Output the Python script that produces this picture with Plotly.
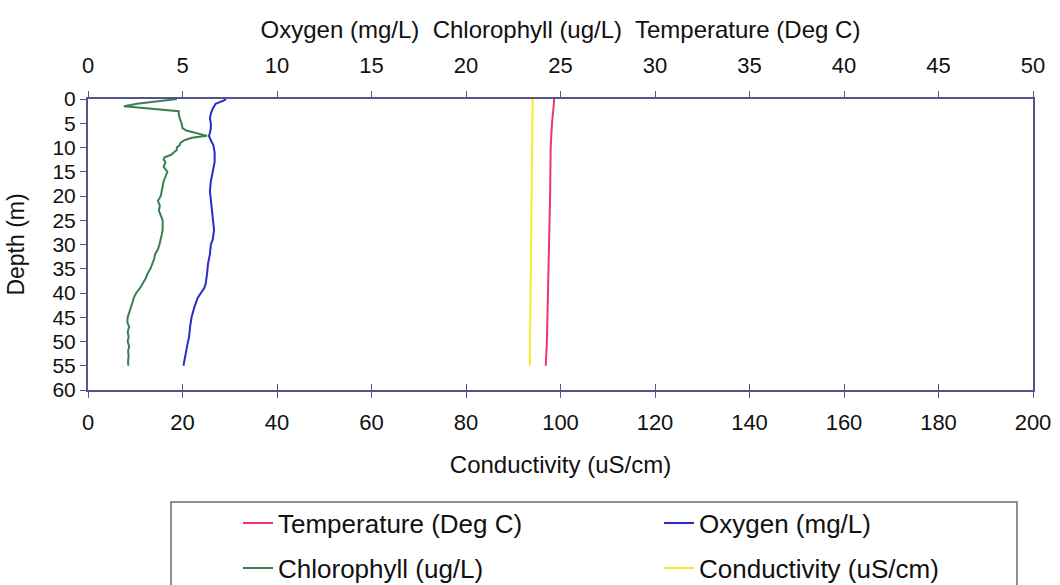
import plotly.graph_objects as go

# --- Depth profiles -------------------------------------------------------
temp_depth = [0, 1, 5, 9, 10, 20, 30, 40, 50, 55]
temp_value = [24.66, 24.65, 24.55, 24.5, 24.48, 24.45, 24.4, 24.35, 24.28, 24.22]

oxy_depth = [0.0, 0.3, 1.0, 2.0, 3.0, 4.0, 5.0, 6.0, 7.0, 7.6, 8.5, 9.5, 11.0,
             13.0, 15.0, 17.0, 19.0, 21.0, 23.0, 25.0, 27.0, 29.0, 30.0, 32.0,
             34.0, 36.0, 38.0, 39.0, 40.0, 41.0, 43.0, 45.0, 47.0, 49.0, 51.0,
             53.0, 55.0]
oxy_value = [7.3, 7.2, 6.75, 6.6, 6.5, 6.45, 6.5, 6.5, 6.45, 6.4, 6.5, 6.63, 6.7,
             6.7, 6.6, 6.5, 6.45, 6.5, 6.57, 6.62, 6.67, 6.6, 6.5, 6.45,
             6.35, 6.3, 6.23, 6.15, 5.98, 5.8, 5.62, 5.48, 5.4, 5.35, 5.24,
             5.13, 5.05]

chl_depth = [0.0, 0.5, 1.0, 1.5, 2.0, 2.5, 3.0, 4.0, 5.0, 6.0, 6.5, 7.0, 7.6,
             8.0, 8.5, 9.0, 9.5, 10.0, 10.5, 11.0, 11.5, 12.0, 12.5, 13.0,
             14.0, 15.0, 16.0, 17.0, 18.0, 19.0, 20.0, 21.0, 22.0, 23.0, 24.0,
             25.0, 26.0, 27.0, 28.0, 29.0, 30.0, 31.0, 32.0, 33.0, 34.0, 35.0,
             36.0, 37.0, 38.0, 39.0, 40.0, 41.0, 42.0, 43.0, 44.0, 45.0, 46.0,
             47.0, 48.0, 49.0, 50.0, 51.0, 52.0, 53.0, 54.0, 55.0]
chl_value = [4.7, 3.6, 2.6, 1.9, 3.3, 4.8, 4.8, 4.85, 4.95, 5.0, 5.2, 5.7, 6.3,
             5.5, 5.1, 4.9, 4.85, 4.7, 4.7, 4.55, 4.4, 4.05, 4.0, 4.1,
             4.0, 4.2, 4.1, 4.0, 3.95, 3.9, 3.85, 3.7, 3.8, 3.75, 3.85,
             3.95, 3.95, 3.95, 3.9, 3.85, 3.78, 3.7, 3.55, 3.5, 3.42, 3.3,
             3.15, 3.05, 2.9, 2.75, 2.55, 2.42, 2.35, 2.28, 2.2, 2.1, 2.08,
             2.18, 2.1, 2.15, 2.1, 2.18, 2.12, 2.15, 2.12, 2.13]

cond_depth = [0, 10, 20, 30, 40, 50, 55]
cond_value = [94.1, 94.0, 93.9, 93.8, 93.7, 93.55, 93.5]

top_ticks = [0, 5, 10, 15, 20, 25, 30, 35, 40, 45, 50]
bottom_ticks = [0, 20, 40, 60, 80, 100, 120, 140, 160, 180, 200]
depth_ticks = [0, 5, 10, 15, 20, 25, 30, 35, 40, 45, 50, 55, 60]

FONT = "Liberation Sans, Arial, sans-serif"
AXIS_COLOR = "#55558a"
W, H = 1060, 585
L, R, T, B = 88, 27, 99, 195
PW, PH = W - L - R, H - T - B


def px_x(px):
    return (px - L) / PW


def px_y(py):
    return (H - B - py) / PH


fig = go.Figure()

fig.add_trace(go.Scatter(x=temp_value, y=temp_depth, xaxis="x2", yaxis="y",
                         mode="lines", name="Temperature (Deg C)",
                         line=dict(color="#f5336b", width=2), legend="legend"))
fig.add_trace(go.Scatter(x=oxy_value, y=oxy_depth, xaxis="x2", yaxis="y",
                         mode="lines", name="Oxygen (mg/L)",
                         line=dict(color="#2b2bc8", width=2), legend="legend"))
fig.add_trace(go.Scatter(x=chl_value, y=chl_depth, xaxis="x2", yaxis="y",
                         mode="lines", name="Chlorophyll (ug/L)",
                         line=dict(color="#3a7f52", width=2), legend="legend2"))
fig.add_trace(go.Scatter(x=cond_value, y=cond_depth, xaxis="x", yaxis="y",
                         mode="lines", name="Conductivity (uS/cm)",
                         line=dict(color="#f2ee2e", width=2), legend="legend2"))
# empty trace so the inner bottom tick axis is drawn
fig.add_trace(go.Scatter(x=[], y=[], xaxis="x3", yaxis="y", showlegend=False,
                         hoverinfo="skip"))

legend_common = dict(
    orientation="h", xanchor="left", yanchor="middle",
    font=dict(family=FONT, size=26, color="#111"),
    bgcolor="rgba(0,0,0,0)", borderwidth=0,
    entrywidth=376, entrywidthmode="pixels",
)

fig.update_layout(
    width=W, height=H,
    margin=dict(l=L, r=R, t=T, b=B, autoexpand=False),
    paper_bgcolor="white", plot_bgcolor="white",
    font=dict(family=FONT, size=21, color="#111"),
    xaxis=dict(
        range=[0, 200], tickvals=bottom_ticks, ticks="outside", ticklen=6,
        tickcolor=AXIS_COLOR, showline=True, linecolor=AXIS_COLOR, linewidth=2,
        mirror=True, showgrid=False, zeroline=False, ticklabelstandoff=6,
        tickfont=dict(size=22),
        title=dict(text="Conductivity (uS/cm)", font=dict(size=24), standoff=22),
    ),
    xaxis2=dict(
        range=[0, 50], tickvals=top_ticks, overlaying="x", side="top",
        anchor="y", ticks="outside", ticklen=6, tickcolor=AXIS_COLOR,
        showline=True, linecolor=AXIS_COLOR, linewidth=2, showgrid=False,
        zeroline=False, ticklabelstandoff=9, tickfont=dict(size=22),
        title=dict(text="Oxygen (mg/L)  Chlorophyll (ug/L)  Temperature (Deg C)",
                   font=dict(size=24), standoff=8),
    ),
    xaxis3=dict(
        range=[0, 200], tickvals=bottom_ticks, overlaying="x", side="bottom",
        anchor="y", ticks="inside", ticklen=6, tickcolor=AXIS_COLOR,
        showticklabels=False, showline=False, showgrid=False, zeroline=False,
    ),
    yaxis=dict(
        range=[60, 0], tickvals=depth_ticks, ticks="outside", ticklen=6,
        tickcolor=AXIS_COLOR, showline=True, linecolor=AXIS_COLOR, linewidth=2,
        mirror=True, showgrid=False, zeroline=False, tickfont=dict(size=21),
        title=dict(text="Depth (m)", font=dict(size=23), standoff=21),
    ),
    legend=dict(legend_common, x=px_x(238), y=px_y(523)),
    legend2=dict(legend_common, x=px_x(238), y=px_y(568)),
    shapes=[dict(type="rect", xref="paper", yref="paper",
                 x0=px_x(171), x1=px_x(1017), y0=px_y(502), y1=px_y(620),
                 line=dict(color="#6a6a7a", width=1.5), layer="below")],
    showlegend=True,
)

fig.write_html("out.html")
